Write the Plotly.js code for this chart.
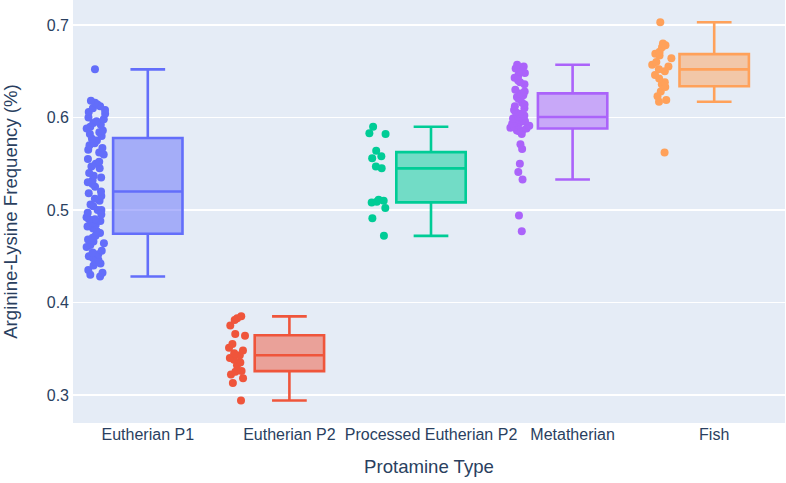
<!DOCTYPE html>
<html>
<head>
<meta charset="utf-8">
<script src="https://cdn.plot.ly/plotly-3.0.1.min.js"></script>
<style>html,body{margin:0;padding:0;background:#fff;}#chart{width:786px;height:483px;}</style>
</head>
<body>
<div id="chart"></div>
<script>
const categories = ["Eutherian P1", "Eutherian P2", "Processed Eutherian P2", "Metatherian", "Fish"];
const colors = ["#636efa", "#EF553B", "#00cc96", "#ab63fa", "#FFA15A"];

const eutherianP1 = [0.652,
  0.618, 0.616, 0.614, 0.612, 0.61, 0.608, 0.606, 0.604,
  0.6, 0.598, 0.596, 0.594, 0.592, 0.59, 0.588, 0.586, 0.584, 0.582, 0.58,
  0.577, 0.575, 0.572, 0.57, 0.567, 0.565, 0.562, 0.56,
  0.555, 0.552, 0.55, 0.547, 0.545,
  0.54, 0.537, 0.535, 0.532, 0.53, 0.528, 0.525,
  0.52, 0.518, 0.515, 0.512, 0.51, 0.506, 0.504,
  0.5, 0.5, 0.497, 0.495, 0.492, 0.49, 0.49, 0.488, 0.486, 0.484, 0.482, 0.48,
  0.477, 0.475, 0.472, 0.47, 0.468, 0.466, 0.464, 0.462, 0.46,
  0.456, 0.454, 0.452, 0.45, 0.448, 0.446, 0.444, 0.442, 0.44,
  0.435, 0.432, 0.43, 0.428];
const eutherianP2 = [0.385, 0.383, 0.381, 0.375, 0.366, 0.364, 0.355, 0.351, 0.348, 0.345, 0.343,
  0.34, 0.338, 0.335, 0.332, 0.326, 0.325, 0.322, 0.318, 0.313, 0.294];
const processedP2 = [0.59, 0.583, 0.582, 0.564, 0.558, 0.556, 0.547, 0.545, 0.511, 0.51, 0.509,
  0.508, 0.502, 0.491, 0.472];
const metatherian = [0.657, 0.655, 0.653, 0.65, 0.648, 0.645, 0.643, 0.64, 0.638, 0.636,
  0.63, 0.628, 0.626, 0.624, 0.622, 0.62,
  0.616, 0.614, 0.612, 0.61, 0.608, 0.606, 0.604, 0.602, 0.601,
  0.6, 0.599, 0.598, 0.597, 0.596, 0.595, 0.594, 0.593, 0.592, 0.591, 0.59, 0.589, 0.588, 0.587, 0.586, 0.586, 0.585,
  0.582, 0.571, 0.566, 0.55, 0.541, 0.533, 0.494, 0.477];
const fish = [0.703, 0.68, 0.678, 0.676, 0.671, 0.669, 0.667, 0.664, 0.66, 0.657, 0.655, 0.652,
  0.65, 0.646, 0.642, 0.638, 0.636, 0.633, 0.628, 0.623, 0.619, 0.617, 0.562];

const seriesValues = [eutherianP1, eutherianP2, processedP2, metatherian, fish];
const yTickVals = [0.3, 0.4, 0.5, 0.6, 0.7];

const traces = categories.map((cat, i) => ({
  type: "box",
  name: cat,
  x: seriesValues[i].map(() => cat),
  y: seriesValues[i],
  boxpoints: "all",
  jitter: 0.3,
  pointpos: -1.5,
  marker: {color: colors[i], size: 8},
  line: {color: colors[i], width: 2.6},
  showlegend: false
}));

const layout = {
  width: 786, height: 483,
  margin: {l: 73, r: 1, t: 0, b: 60},
  paper_bgcolor: "#ffffff",
  plot_bgcolor: "#e5ecf6",
  font: {family: "Liberation Sans, Arial, sans-serif", size: 16, color: "#2a3f5f"},
  boxmode: "overlay",
  xaxis: {
    title: {text: "Protamine Type", font: {size: 18.6}, standoff: 17},
    categoryorder: "array", categoryarray: categories,
    showgrid: false, zeroline: false
  },
  yaxis: {
    title: {text: "Arginine-Lysine Frequency (%)", font: {size: 18.6}, standoff: 27},
    range: [0.2697, 0.727],
    tickvals: yTickVals,
    ticklabelstandoff: 3,
    gridcolor: "#ffffff", gridwidth: 1.33,
    zeroline: false
  }
};

Plotly.newPlot("chart", traces, layout, {displayModeBar: false, staticPlot: true});
</script>
</body>
</html>
